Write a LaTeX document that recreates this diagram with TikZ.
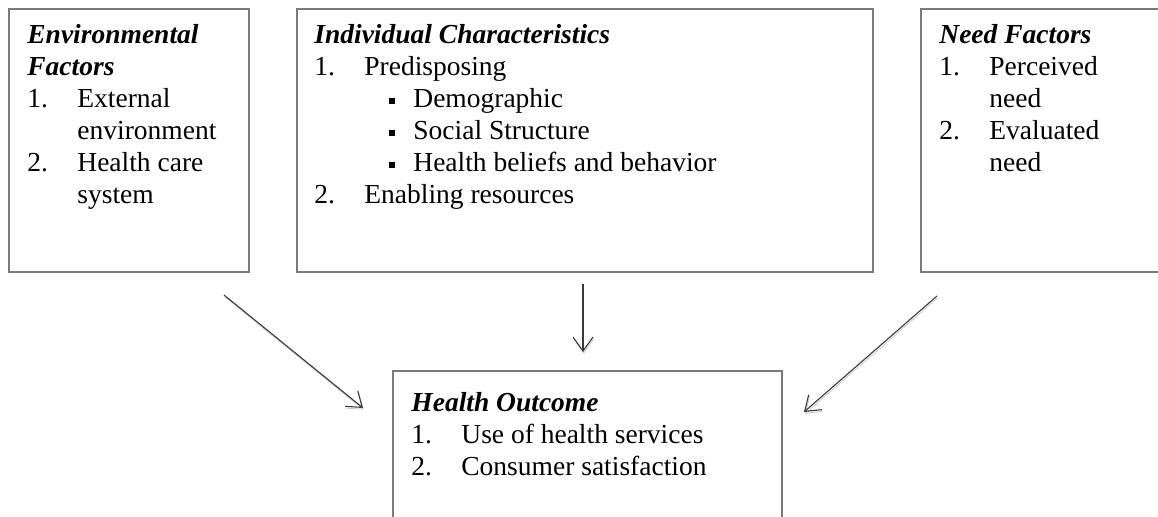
\documentclass[tikz,border=0pt]{standalone}
\usepackage{fontspec}
\setmainfont{Liberation Serif}
\usetikzlibrary{arrows.meta}
\definecolor{boxgray}{HTML}{7A7A7A}
\definecolor{arrowgray}{HTML}{3A3A3A}
\definecolor{shadowgray}{HTML}{C8C8C8}
\tikzset{
  box/.style={draw=boxgray, line width=1pt, anchor=north west, inner sep=0pt},
  txt/.style={anchor=base west, inner sep=0pt, font=\fontsize{13.75}{16}\selectfont},
  ttl/.style={txt, font=\fontsize{13.75}{16}\selectfont\bfseries\itshape},
  bul/.style={fill=black, inner sep=0pt, minimum size=3.4pt},
  conn/.style={draw=arrowgray, line width=0.55pt, -{Straight Barb[length=7pt,width=10pt]},
    preaction={draw=shadowgray, transform canvas={shift={(0.4pt,-0.9pt)}}}},
}
\begin{document}
\begin{tikzpicture}[x=0.5pt,y=-0.5pt]
\useasboundingbox (0,0) rectangle (1158,517);
\clip (0,0) rectangle (1158,517);
% boxes
\node[box, minimum width=120pt, minimum height=131.5pt] (env) at (8,8) {};
\node[box, minimum width=288pt, minimum height=131.5pt] (ind) at (296,8) {};
\node[box, minimum width=126pt, minimum height=131.5pt] (need) at (920,8) {};
\node[box, minimum width=194.5pt, minimum height=90pt] (out) at (392,370) {};
% Environmental Factors
\node[ttl] (e1) at (27,44) {Environmental};
\node[ttl] (e2) at (27,76) {Factors};
\node[txt] (e3n) at (27,108) {1.};
\node[txt] (e3) at (77,108) {External};
\node[txt] (e4) at (77,140) {environment};
\node[txt] (e5n) at (27,172) {2.};
\node[txt] (e5) at (77,172) {Health care};
\node[txt] (e6) at (77,204) {system};
% Individual Characteristics
\node[ttl] (i1) at (314,44) {Individual Characteristics};
\node[txt] (i2n) at (314,76) {1.};
\node[txt] (i2) at (364,76) {Predisposing};
\node[bul] (b1) at (392,101) {};
\node[txt] (i3) at (413,108) {Demographic};
\node[bul] (b2) at (392,133) {};
\node[txt] (i4) at (413,140) {Social Structure};
\node[bul] (b3) at (392,165) {};
\node[txt] (i5) at (413,172) {Health beliefs and behavior};
\node[txt] (i6n) at (314,204) {2.};
\node[txt] (i6) at (364,204) {Enabling resources};
% Need Factors
\node[ttl] (n1) at (939,44) {Need Factors};
\node[txt] (n2n) at (939,76) {1.};
\node[txt] (n2) at (989,76) {Perceived};
\node[txt] (n3) at (989,108) {need};
\node[txt] (n4n) at (939,140) {2.};
\node[txt] (n4) at (989,140) {Evaluated};
\node[txt] (n5) at (989,172) {need};
% Health Outcome
\node[ttl] (o1) at (411,412) {Health Outcome};
\node[txt] (o2n) at (411,444) {1.};
\node[txt] (o2) at (461,444) {Use of health services};
\node[txt] (o3n) at (411,476) {2.};
\node[txt] (o3) at (461,476) {Consumer satisfaction};
% connectors
\coordinate (a1s) at (224,295);
\coordinate (a1e) at (363,408);
\coordinate (a2s) at (583,284);
\coordinate (a2e) at (583,352);
\coordinate (a3s) at (937,296);
\coordinate (a3e) at (804,412);
\draw[conn] (a1s) -- (a1e);
\draw[conn] (a2s) -- (a2e);
\draw[conn] (a3s) -- (a3e);
\end{tikzpicture}
\end{document}
